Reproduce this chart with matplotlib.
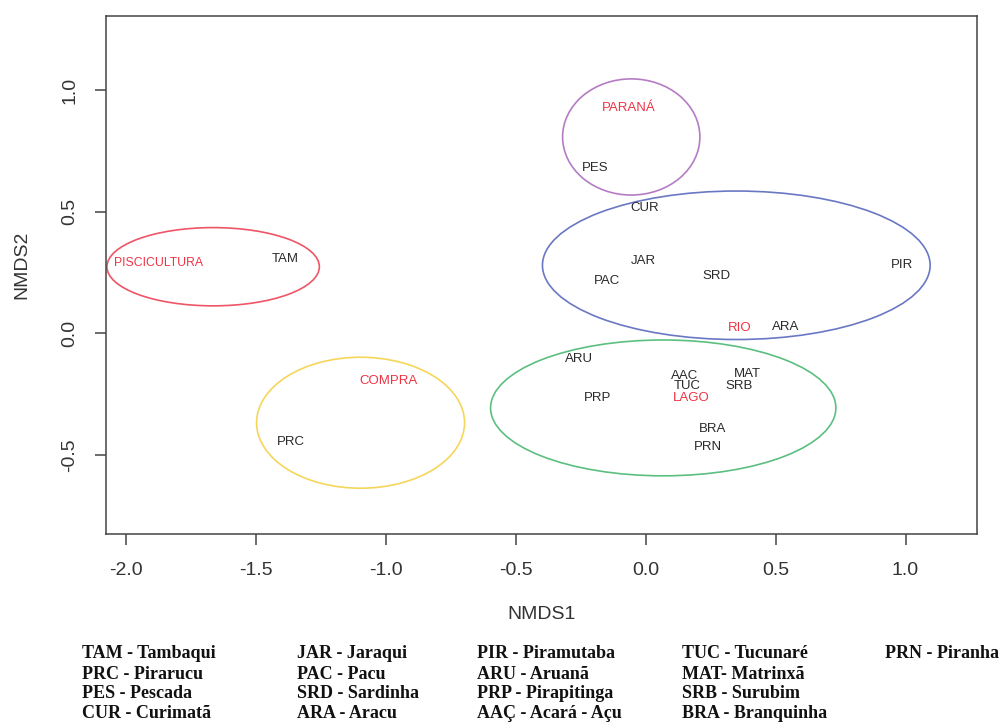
import matplotlib
matplotlib.use("Agg")
import matplotlib.pyplot as plt
from matplotlib.patches import Ellipse

# Species scores on the two NMDS axes
species = ["TAM", "PRC", "PES", "CUR", "JAR", "PAC", "SRD", "PIR", "ARA",
           "ARU", "PRP", "AAC", "TUC", "MAT", "SRB", "BRA", "PRN"]
nmds1 = [-1.387, -1.364, -0.192, -0.005, -0.008, -0.147, 0.271, 0.988, 0.540,
         -0.257, -0.183, 0.151, 0.160, 0.391, 0.361, 0.258, 0.239]
nmds2 = [0.305, -0.446, 0.682, 0.515, 0.299, 0.217, 0.236, 0.281, 0.025,
         -0.106, -0.268, -0.174, -0.216, -0.168, -0.216, -0.395, -0.467]

# Origin groups: label position and ellipse (centre, width, height)
groups = ["PISCICULTURA", "PARANÁ", "RIO", "LAGO", "COMPRA"]
group_x = [-1.874, -0.063, 0.361, 0.177, -0.990]
group_y = [0.288, 0.926, 0.021, -0.265, -0.196]
ell_cx = [-1.663, -0.055, 0.349, 0.068, -1.096]
ell_cy = [0.274, 0.808, 0.280, -0.307, -0.368]
ell_w = [0.817, 0.528, 1.491, 1.328, 0.800]
ell_h = [0.322, 0.478, 0.611, 0.559, 0.539]
ell_colors = ["#ee5566", "#b57cc4", "#6a78c4", "#5cbf80", "#f5d65a"]

xticks = [-2.0, -1.5, -1.0, -0.5, 0.0, 0.5, 1.0]
yticks = [-0.5, 0.0, 0.5, 1.0]

# Species code key printed under the plot
key_cols = [
    ["TAM - Tambaqui", "PRC - Pirarucu", "PES - Pescada", "CUR - Curimatã"],
    ["JAR - Jaraqui", "PAC - Pacu", "SRD - Sardinha", "ARA - Aracu"],
    ["PIR - Piramutaba", "ARU - Aruanã", "PRP - Pirapitinga", "AAÇ - Acará - Açu"],
    ["TUC - Tucunaré", "MAT- Matrinxã", "SRB - Surubim", "BRA - Branquinha"],
    ["PRN - Piranha"],
]

plt.rcParams["font.family"] = ["Liberation Sans", "DejaVu Sans"]

fig = plt.figure(figsize=(10.03, 7.24), dpi=100)
ax = fig.add_axes([0.1057, 0.2624, 0.8687, 0.7159])

axis_col = "#444444"
for sp in ax.spines.values():
    sp.set_color(axis_col)
    sp.set_linewidth(1.1)

for i in range(len(groups)):
    ax.add_patch(Ellipse((ell_cx[i], ell_cy[i]), ell_w[i], ell_h[i],
                         fill=False, edgecolor=ell_colors[i], linewidth=1.2))

for name, x, y in zip(species, nmds1, nmds2):
    ax.text(x, y, name, ha="center", va="center", fontsize=9.5, color="#2a2a2a")

for name, x, y in zip(groups, group_x, group_y):
    size = 8.8 if len(name) > 8 else 9.5
    ax.text(x, y, name, ha="center", va="center", fontsize=size, color="#ee3344")

ax.set_xlim(-2.075, 1.276)
ax.set_ylim(-0.826, 1.307)
ax.set_xticks(xticks)
ax.set_xticklabels([f"{t:.1f}" for t in xticks])
ax.set_yticks(yticks)
ax.set_yticklabels([f"{t:.1f}" for t in yticks], rotation=90, va="center")
ax.tick_params(axis="both", direction="out", length=8, width=1.1,
               color=axis_col, labelsize=14, labelcolor="#333333", pad=12)

ax.set_xlabel("NMDS1", fontsize=14, color="#333333", va="center")
ax.set_ylabel("NMDS2", fontsize=14, color="#333333", va="center")
ax.xaxis.set_label_coords(0.5, -0.156)
ax.yaxis.set_label_coords(-0.0968, 0.519)

# Key below the axes
col_left = [81.7, 296.7, 476.7, 681.7, 885.0]
row_y = [653.3, 674.3, 693.8, 713.3]
W, H = 1003.0, 724.0
for cx, col in zip(col_left, key_cols):
    for ry, line in zip(row_y, col):
        fig.text(cx / W, 1 - ry / H, line, ha="left", va="center",
                 fontsize=13, fontweight="bold", family="Liberation Serif",
                 color="#111111")

fig.savefig("out.png", dpi=100)
